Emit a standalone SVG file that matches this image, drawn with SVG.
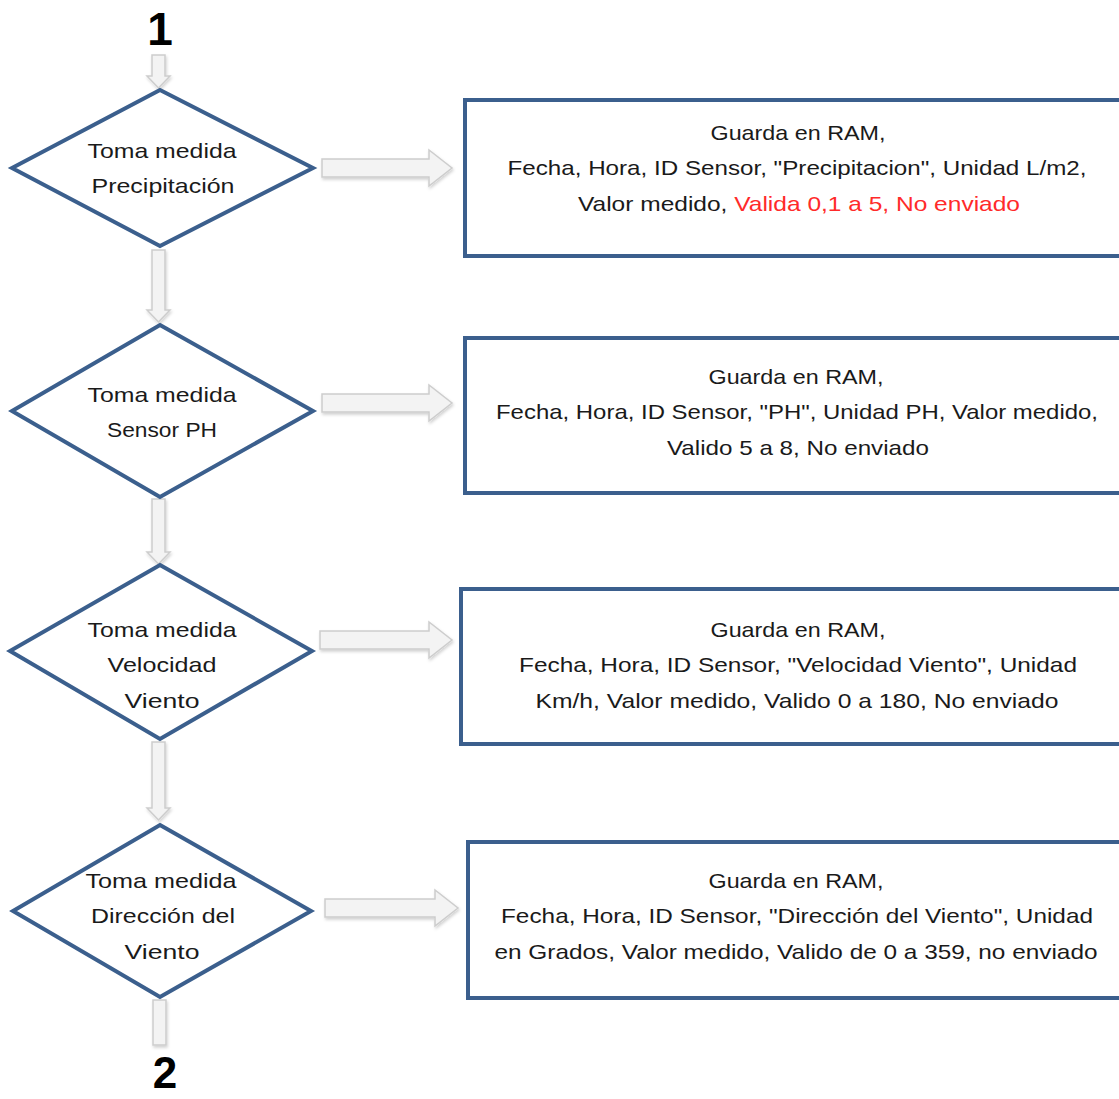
<svg xmlns="http://www.w3.org/2000/svg" width="1119" height="1099" viewBox="0 0 1119 1099">
<defs>
<style>
.dia{fill:#fff;stroke:#3b5f8d;stroke-width:4;stroke-linejoin:miter}
.box{fill:#fff;stroke:#3b5f8d;stroke-width:4}
.arr{fill:#f3f3f3;stroke:#cdcdcd;stroke-width:1.5}
.t{font-family:"Liberation Sans",Arial,sans-serif;font-size:21px;fill:#1a1a1a;text-anchor:middle}
.red{fill:#ff2a2a}
.num{font-family:"Liberation Sans",Arial,sans-serif;font-size:46px;font-weight:bold;fill:#000;text-anchor:middle}
</style>
<filter id="sh" x="-20%" y="-20%" width="140%" height="160%">
<feDropShadow dx="1" dy="2" stdDeviation="1.5" flood-color="#000" flood-opacity="0.18"/>
</filter>
</defs>
<g id="connectors" filter="url(#sh)">
<path class="arr" d="M152,55 H165 V76 H170 L158.5,88 L147,76 H152 Z"/>
<path class="arr" d="M152,250 H165 V310 H170 L158.5,322 L147,310 H152 Z"/>
<path class="arr" d="M152,499 H165 V552 H170 L158.5,564 L147,552 H152 Z"/>
<path class="arr" d="M152,742 H165 V808 H170 L158.5,820 L147,808 H152 Z"/>
<path class="arr" d="M153,1000 H166 V1045 H153 Z"/>
<path class="arr" d="M322,159 H429 V150 L452,168 L429,186 V177 H322 Z"/>
<path class="arr" d="M322,394 H429 V385 L452,403 L429,421 V412 H322 Z"/>
<path class="arr" d="M320,631 H429 V622 L452,640 L429,658 V649 H320 Z"/>
<path class="arr" d="M325,899 H435 V890 L458,908 L435,926 V917 H325 Z"/>
</g>
<text class="num" x="160" y="45">1</text>
<text class="num" x="165" y="1088" style="font-size:44px">2</text>
<g id="d1">
<polygon class="dia" points="160,90 313,168 160,246 12,168"/>
<text class="t" x="162" y="158" textLength="149" lengthAdjust="spacingAndGlyphs">Toma medida</text>
<text class="t" x="163" y="193" textLength="143" lengthAdjust="spacingAndGlyphs">Precipitación</text>
</g>
<g id="d2">
<polygon class="dia" points="160,325 313,411 160,497 12,411"/>
<text class="t" x="162" y="402" textLength="149" lengthAdjust="spacingAndGlyphs">Toma medida</text>
<text class="t" x="162" y="437" textLength="110" lengthAdjust="spacingAndGlyphs">Sensor PH</text>
</g>
<g id="d3">
<polygon class="dia" points="160,565 312,651 160,739 10,651"/>
<text class="t" x="162" y="637" textLength="149" lengthAdjust="spacingAndGlyphs">Toma medida</text>
<text class="t" x="162" y="672" textLength="109" lengthAdjust="spacingAndGlyphs">Velocidad</text>
<text class="t" x="162" y="708" textLength="75" lengthAdjust="spacingAndGlyphs">Viento</text>
</g>
<g id="d4">
<polygon class="dia" points="160,825 311,911 160,997 13,911"/>
<text class="t" x="161" y="888" textLength="151" lengthAdjust="spacingAndGlyphs">Toma medida</text>
<text class="t" x="163" y="923" textLength="144" lengthAdjust="spacingAndGlyphs">Dirección del</text>
<text class="t" x="162" y="959" textLength="75" lengthAdjust="spacingAndGlyphs">Viento</text>
</g>
<g id="b1">
<rect class="box" x="465" y="100" width="670" height="156"/>
<text class="t" x="798" y="140" textLength="175" lengthAdjust="spacingAndGlyphs">Guarda en RAM,</text>
<text class="t" x="797" y="175" textLength="579" lengthAdjust="spacingAndGlyphs">Fecha, Hora, ID Sensor, "Precipitacion", Unidad L/m2,</text>
<text class="t" x="799" y="211" textLength="442" lengthAdjust="spacingAndGlyphs">Valor medido, <tspan class="red">Valida 0,1 a 5, No enviado</tspan></text>
</g>
<g id="b2">
<rect class="box" x="465" y="338" width="670" height="155"/>
<text class="t" x="796" y="384" textLength="175" lengthAdjust="spacingAndGlyphs">Guarda en RAM,</text>
<text class="t" x="797" y="419" textLength="602" lengthAdjust="spacingAndGlyphs">Fecha, Hora, ID Sensor, "PH", Unidad PH, Valor medido,</text>
<text class="t" x="798" y="455" textLength="262" lengthAdjust="spacingAndGlyphs">Valido 5 a 8, No enviado</text>
</g>
<g id="b3">
<rect class="box" x="461" y="589" width="674" height="155"/>
<text class="t" x="798" y="637" textLength="175" lengthAdjust="spacingAndGlyphs">Guarda en RAM,</text>
<text class="t" x="798" y="672" textLength="558" lengthAdjust="spacingAndGlyphs">Fecha, Hora, ID Sensor, "Velocidad Viento", Unidad</text>
<text class="t" x="797" y="708" textLength="523" lengthAdjust="spacingAndGlyphs">Km/h, Valor medido, Valido 0 a 180, No enviado</text>
</g>
<g id="b4">
<rect class="box" x="468" y="842" width="667" height="156"/>
<text class="t" x="796" y="888" textLength="175" lengthAdjust="spacingAndGlyphs">Guarda en RAM,</text>
<text class="t" x="797" y="923" textLength="592" lengthAdjust="spacingAndGlyphs">Fecha, Hora, ID Sensor, "Dirección del Viento", Unidad</text>
<text class="t" x="796" y="959" textLength="603" lengthAdjust="spacingAndGlyphs">en Grados, Valor medido, Valido de 0 a 359, no enviado</text>
</g>
</svg>
